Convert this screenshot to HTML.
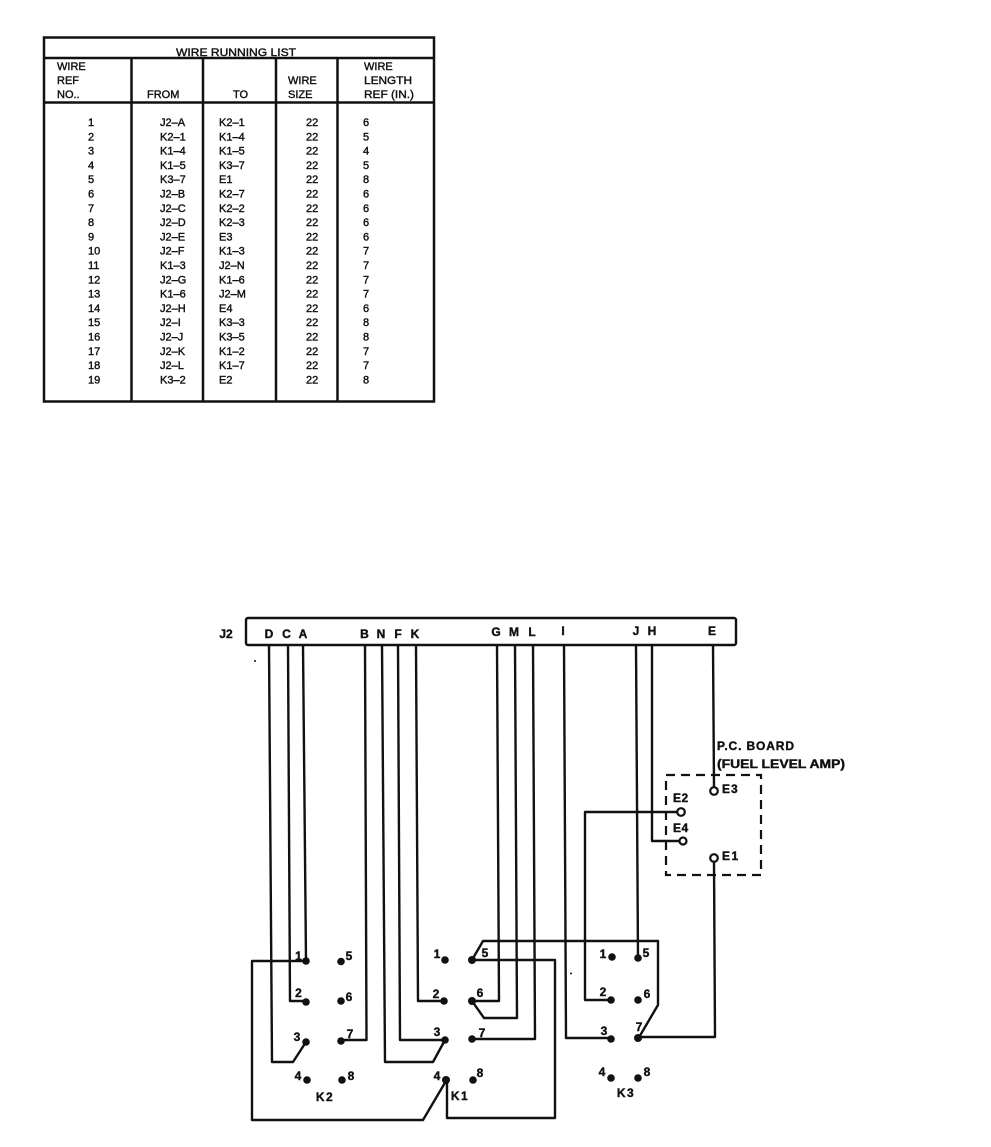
<!DOCTYPE html>
<html><head><meta charset="utf-8">
<style>
html,body{margin:0;padding:0;background:#fff}
svg{display:block}
text{font-family:"Liberation Sans",sans-serif;fill:#111;stroke:#111;stroke-width:.4}
.t{font-size:11px}
.d{font-size:12px;font-weight:bold}
.w{fill:none;stroke:#111;stroke-width:2.400;stroke-linejoin:round}
circle.p{fill:#111;stroke:none}
circle.o{fill:#fff;stroke:#111;stroke-width:2.200}
</style></head>
<body>
<svg width="991" height="1147" viewBox="0 0 991 1147" xmlns="http://www.w3.org/2000/svg">
<g fill="none" stroke="#111" stroke-width="2.500">
<rect x="44" y="37.500" width="390" height="364"/>
<path d="M44 58H434M44 102.500H434"/>
<path d="M131.500 58V402M203 58V402M276 58V402M337.500 58V402"/>
</g>
<g class="t">
<text x="176" y="56" textLength="120" lengthAdjust="spacingAndGlyphs">WIRE RUNNING LIST</text>
<text x="57" y="70">WIRE</text><text x="57" y="84">REF</text><text x="57" y="98">NO..</text>
<text x="147" y="98">FROM</text><text x="233" y="98">TO</text>
<text x="288" y="84">WIRE</text><text x="288" y="98">SIZE</text>
<text x="364" y="70">WIRE</text><text x="364" y="84" textLength="48" lengthAdjust="spacingAndGlyphs">LENGTH</text><text x="364" y="98" textLength="50" lengthAdjust="spacingAndGlyphs">REF (IN.)</text>
<text x="88" y="126">1</text><text x="160" y="126">J2–A</text><text x="219" y="126">K2–1</text><text x="306" y="126">22</text><text x="363" y="126">6</text>
<text x="88" y="140.300">2</text><text x="160" y="140.300">K2–1</text><text x="219" y="140.300">K1–4</text><text x="306" y="140.300">22</text><text x="363" y="140.300">5</text>
<text x="88" y="154.600">3</text><text x="160" y="154.600">K1–4</text><text x="219" y="154.600">K1–5</text><text x="306" y="154.600">22</text><text x="363" y="154.600">4</text>
<text x="88" y="168.900">4</text><text x="160" y="168.900">K1–5</text><text x="219" y="168.900">K3–7</text><text x="306" y="168.900">22</text><text x="363" y="168.900">5</text>
<text x="88" y="183.200">5</text><text x="160" y="183.200">K3–7</text><text x="219" y="183.200">E1</text><text x="306" y="183.200">22</text><text x="363" y="183.200">8</text>
<text x="88" y="197.500">6</text><text x="160" y="197.500">J2–B</text><text x="219" y="197.500">K2–7</text><text x="306" y="197.500">22</text><text x="363" y="197.500">6</text>
<text x="88" y="211.800">7</text><text x="160" y="211.800">J2–C</text><text x="219" y="211.800">K2–2</text><text x="306" y="211.800">22</text><text x="363" y="211.800">6</text>
<text x="88" y="226.100">8</text><text x="160" y="226.100">J2–D</text><text x="219" y="226.100">K2–3</text><text x="306" y="226.100">22</text><text x="363" y="226.100">6</text>
<text x="88" y="240.400">9</text><text x="160" y="240.400">J2–E</text><text x="219" y="240.400">E3</text><text x="306" y="240.400">22</text><text x="363" y="240.400">6</text>
<text x="88" y="254.700">10</text><text x="160" y="254.700">J2–F</text><text x="219" y="254.700">K1–3</text><text x="306" y="254.700">22</text><text x="363" y="254.700">7</text>
<text x="88" y="269">11</text><text x="160" y="269">K1–3</text><text x="219" y="269">J2–N</text><text x="306" y="269">22</text><text x="363" y="269">7</text>
<text x="88" y="283.300">12</text><text x="160" y="283.300">J2–G</text><text x="219" y="283.300">K1–6</text><text x="306" y="283.300">22</text><text x="363" y="283.300">7</text>
<text x="88" y="297.600">13</text><text x="160" y="297.600">K1–6</text><text x="219" y="297.600">J2–M</text><text x="306" y="297.600">22</text><text x="363" y="297.600">7</text>
<text x="88" y="311.900">14</text><text x="160" y="311.900">J2–H</text><text x="219" y="311.900">E4</text><text x="306" y="311.900">22</text><text x="363" y="311.900">6</text>
<text x="88" y="326.200">15</text><text x="160" y="326.200">J2–I</text><text x="219" y="326.200">K3–3</text><text x="306" y="326.200">22</text><text x="363" y="326.200">8</text>
<text x="88" y="340.500">16</text><text x="160" y="340.500">J2–J</text><text x="219" y="340.500">K3–5</text><text x="306" y="340.500">22</text><text x="363" y="340.500">8</text>
<text x="88" y="354.800">17</text><text x="160" y="354.800">J2–K</text><text x="219" y="354.800">K1–2</text><text x="306" y="354.800">22</text><text x="363" y="354.800">7</text>
<text x="88" y="369.100">18</text><text x="160" y="369.100">J2–L</text><text x="219" y="369.100">K1–7</text><text x="306" y="369.100">22</text><text x="363" y="369.100">7</text>
<text x="88" y="383.400">19</text><text x="160" y="383.400">K3–2</text><text x="219" y="383.400">E2</text><text x="306" y="383.400">22</text><text x="363" y="383.400">8</text>
</g>

<rect x="246" y="618" width="490" height="27" rx="2" fill="none" stroke="#111" stroke-width="2.400"/>
<g class="w">
<path d="M269 645L272 1062H293L306 1042"/>
<path d="M288 645L290 1001H306"/>
<path d="M303 645L306 961H252V1120H423L446 1081"/>
<path d="M365 645L366.500 1040H341"/>
<path d="M382 645L385 1062H433L445 1040"/>
<path d="M398 645L400 1040H445"/>
<path d="M416 645L418 1001H444"/>
<path d="M497 645L499 1001H472"/>
<path d="M515 645L517 1018H484L472 1001"/>
<path d="M533 645L535 1039H472"/>
<path d="M564 645L566 1038H611"/>
<path d="M636 645L638 958"/>
<path d="M652 645V841H679"/>
<path d="M713 645L714 787"/>
<path d="M677 812H585V1000H611"/>
<path d="M714 862L715 1037H638"/>
<path d="M472 960L483 941H658V1005L638 1039"/>
<path d="M472 960H555V1118H447V1081"/>
</g>
<rect x="666" y="775" width="95" height="100" fill="none" stroke="#111" stroke-width="2.200" stroke-dasharray="9 6"/>
<circle class="o" cx="714" cy="791" r="3.800"/>
<circle class="o" cx="681" cy="812" r="3.800"/>
<circle class="o" cx="683" cy="841" r="3.500"/>
<circle class="o" cx="714" cy="858" r="3.800"/>

<g>
<circle class="p" cx="306" cy="961" r="3.800"/><circle class="p" cx="341" cy="961.500" r="3.800"/>
<circle class="p" cx="306" cy="1002" r="3.800"/><circle class="p" cx="341" cy="1001" r="3.800"/>
<circle class="p" cx="306" cy="1042" r="3.800"/><circle class="p" cx="341" cy="1041" r="3.800"/>
<circle class="p" cx="307" cy="1080" r="3.800"/><circle class="p" cx="342" cy="1080" r="3.800"/>
<circle class="p" cx="445" cy="960" r="3.800"/><circle class="p" cx="472" cy="960" r="4"/>
<circle class="p" cx="444" cy="1001" r="3.800"/><circle class="p" cx="472" cy="1001" r="4"/>
<circle class="p" cx="445" cy="1040" r="3.800"/><circle class="p" cx="472" cy="1039" r="3.800"/>
<circle class="p" cx="446" cy="1080" r="4"/><circle class="p" cx="473" cy="1080" r="3.800"/>
<circle class="p" cx="612" cy="957" r="3.800"/><circle class="p" cx="638" cy="958" r="3.800"/>
<circle class="p" cx="611" cy="1000" r="3.800"/><circle class="p" cx="638" cy="1000" r="3.800"/>
<circle class="p" cx="611" cy="1039" r="3.800"/><circle class="p" cx="638" cy="1038" r="4"/>
<circle class="p" cx="611" cy="1078" r="3.800"/><circle class="p" cx="638" cy="1078" r="3.800"/>
<circle class="p" cx="255" cy="661" r="1"/><circle class="p" cx="571" cy="973.500" r="1"/>
</g>

<g class="d" text-anchor="middle">
<text x="226" y="638">J2</text>
<text x="269" y="638">D</text><text x="286.500" y="638">C</text><text x="303" y="638">A</text>
<text x="364.500" y="638">B</text><text x="381" y="638">N</text><text x="398" y="638">F</text><text x="415" y="638">K</text>
<text x="496" y="636">G</text><text x="514" y="636">M</text><text x="532" y="636">L</text>
<text x="563" y="635">I</text><text x="636" y="635">J</text><text x="652" y="635">H</text><text x="712" y="635">E</text>
<text x="298.500" y="960">1</text><text x="349" y="960">5</text>
<text x="298.500" y="997">2</text><text x="349" y="1001">6</text>
<text x="297" y="1041">3</text><text x="350" y="1038">7</text>
<text x="298" y="1080">4</text><text x="351" y="1080">8</text>
<text x="437" y="958">1</text><text x="485" y="957">5</text>
<text x="436" y="998">2</text><text x="480" y="997">6</text>
<text x="437" y="1036">3</text><text x="482" y="1037">7</text>
<text x="437" y="1080">4</text><text x="480" y="1077">8</text>
<text x="603" y="958">1</text><text x="646" y="957">5</text>
<text x="603" y="996">2</text><text x="647" y="998">6</text>
<text x="604" y="1035">3</text><text x="639" y="1031">7</text>
<text x="602" y="1076">4</text><text x="647" y="1076">8</text>
<text x="325" y="1101" letter-spacing="1.500">K2</text>
<text x="460" y="1100" letter-spacing="1.500">K1</text>
<text x="626" y="1097" letter-spacing="1.500">K3</text>
</g>
<g class="d">
<text x="717" y="750" textLength="77" lengthAdjust="spacing">P.C. BOARD</text>
<text x="717" y="768" textLength="128" lengthAdjust="spacingAndGlyphs">(FUEL LEVEL AMP)</text>
<text x="722" y="793" letter-spacing="1">E3</text>
<text x="673" y="802" letter-spacing=".5">E2</text>
<text x="673" y="832" letter-spacing=".5">E4</text>
<text x="722" y="860" letter-spacing="1.500">E1</text>
</g>
</svg>
</body></html>
